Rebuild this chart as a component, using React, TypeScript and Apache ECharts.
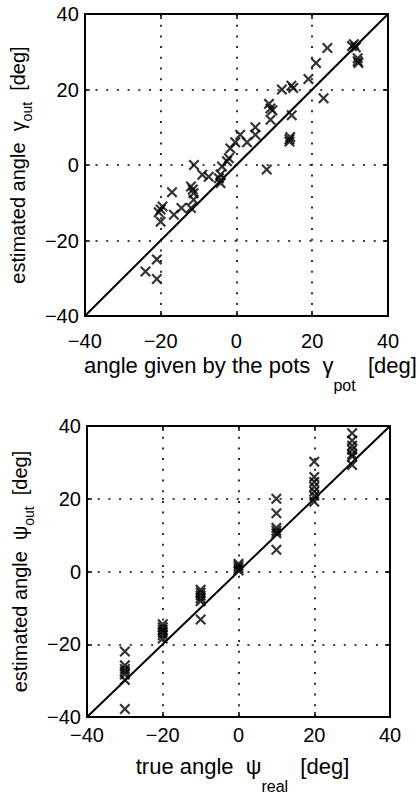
import React, { useEffect, useRef } from "react";
import * as echarts from "echarts";

// ---- data ----
const tickValues = [-40, -20, 0, 20, 40];

// top panel: angle given by the pots (x) vs estimated angle gamma_out (y)
const potAngle = [
  24, 30.5, 31, 31.5, 32, 32, 32.2, 21, 19, 15, 14.5, 12, 23, 9, 8.6, 9.5, 9, 14.6,
  14, 14, 14.2, 5, 5, 1, -0.3, 2.8, -1.6, -2, -2.5, -4.6, -4.2, -4.2, -11.2, -9,
  -7.3, -3.8, 8, -12, -11.5, -11.3, -11.3, -12, -17, -20, -19.5, -20.5, -20, -16.5,
  -14.5, -21, -24, -21,
];
const gammaOut = [
  31, 31.5, 32, 31.2, 27.5, 28.3, 27, 27, 22.8, 20.4, 21, 20, 17.7, 15, 16.2, 14.5,
  12, 13.2, 6.8, 6.2, 7.4, 10, 8, 8, 6, 6, 4.4, 1.8, 1, -3.5, -2.5, -4.8, 0, -2.6,
  -3.1, -0.4, -1.2, -5.7, -6.5, -7.5, -9.2, -11.4, -7.2, -11.8, -11, -12.5, -15,
  -13.2, -11.4, -25, -28.2, -30.2,
];

// bottom panel: true angle psi_real (x) vs estimated angle psi_out (y)
const realAngle = [
  -30, -30, -30, -30, -30, -30, -30,
  -20, -20, -20, -20, -20, -20,
  -10, -10, -10, -10, -10, -10,
  0, 0, 0, 0,
  10, 10, 10, 10, 10, 10,
  20, 20, 20, 20, 20, 20, 20,
  30, 30, 30, 30, 30, 30, 30,
];
const psiOut = [
  -22, -25.8, -26.8, -27.5, -28.3, -29.8, -37.8,
  -14.5, -15.3, -16, -16.8, -17.5, -18.4,
  -5, -5.8, -6.6, -7.4, -8.2, -13.2,
  0.3, 0.9, 1.5, 2.1,
  20, 16, 12, 11.2, 10.5, 6,
  30.2, 26, 24.6, 23.3, 22, 20.8, 19.2,
  38, 36, 34.6, 33.5, 32.2, 31.6, 29.3,
];

// identity reference line y = x
const identityX = [-40, 40];

const FONT = "Liberation Sans, Arial, Helvetica, sans-serif";
const X_PATH =
  "path://M0,14 L14,0 L50,36 L86,0 L100,14 L64,50 L100,86 L86,100 L50,64 L14,100 L0,86 L36,50 Z";

const fmt = (v: number) => (v < 0 ? "\u2212" + Math.abs(v) : String(v));

function xAxes(grid: number, name: string, labelMargin: number, nameGap: number, shift: number) {
  const base = {
    gridIndex: grid,
    type: "value" as const,
    min: tickValues[0],
    max: tickValues[tickValues.length - 1],
    interval: 20,
    axisLine: { show: true, onZero: false, lineStyle: { color: "#000", width: 2 } },
    axisTick: { show: true, inside: true, length: 5, lineStyle: { color: "#000", width: 1.5 } },
  };
  return [
    {
      ...base,
      position: "bottom",
      axisLabel: { show: true, margin: labelMargin, color: "#000", fontFamily: FONT, fontSize: 20, formatter: fmt },
      splitLine: { show: true, lineStyle: { color: "#000", width: 1.6, type: [2, 8.7] } },
      name,
      nameLocation: "middle",
      nameGap,
      nameTextStyle: {
        padding: [0, 0, 0, shift],
        rich: {
          m: { fontFamily: FONT, fontSize: 22, lineHeight: 22, color: "#000", verticalAlign: "top" },
          s: { fontFamily: FONT, fontSize: 16, lineHeight: 16, color: "#000", verticalAlign: "top", padding: [23, 0, 0, 0] },
        },
      },
    },
    {
      ...base,
      position: "top",
      axisLabel: { show: false },
      splitLine: { show: false },
    },
  ];
}

function yAxes(grid: number, name: string, nameGap: number) {
  const base = {
    gridIndex: grid,
    type: "value" as const,
    min: tickValues[0],
    max: tickValues[tickValues.length - 1],
    interval: 20,
    axisLine: { show: true, onZero: false, lineStyle: { color: "#000", width: 2 } },
    axisTick: { show: true, inside: true, length: 5, lineStyle: { color: "#000", width: 1.5 } },
  };
  return [
    {
      ...base,
      position: "left",
      axisLabel: { show: true, margin: 6, color: "#000", fontFamily: FONT, fontSize: 20, formatter: fmt },
      splitLine: { show: true, lineStyle: { color: "#000", width: 1.6, type: [2, 8.7] } },
      name,
      nameLocation: "middle",
      nameGap,
      nameTextStyle: {
        rich: {
          m: { fontFamily: FONT, fontSize: 20, lineHeight: 20, color: "#000", verticalAlign: "top" },
          s: { fontFamily: FONT, fontSize: 14, lineHeight: 14, color: "#000", verticalAlign: "top", padding: [12, 0, 0, 0] },
        },
      },
    },
    {
      ...base,
      position: "right",
      axisLabel: { show: false },
      splitLine: { show: false },
    },
  ];
}

export default function App() {
  const ref = useRef<HTMLDivElement>(null);
  useEffect(() => {
    if (!ref.current) return;
    const chart = echarts.init(ref.current, null, { renderer: "svg" });
    const topPts = potAngle.map((x, i) => [x, gammaOut[i]]);
    const botPts = realAngle.map((x, i) => [x, psiOut[i]]);
    const diag = identityX.map((v) => [v, v]);
    chart.setOption({
      animation: false,
      backgroundColor: "#fff",
      textStyle: { fontFamily: FONT },
      grid: [
        { left: 84, top: 14, width: 304, height: 302 },
        { left: 87, top: 426, width: 303, height: 306 },
      ],
      xAxis: [
        ...xAxes(0, "{m|angle given by the pots  \u03b3}{s|pot}{m|  [deg]}", 15, 38, 28),
        ...xAxes(1, "{m|true angle  \u03c8}{s|real}{m|  [deg]}", 8, 38, 8),
      ],
      yAxis: [
        ...yAxes(0, "{m|estimated angle  \u03b3}{s|out}{m|  [deg]}", 48),
        ...yAxes(1, "{m|estimated angle  \u03c8}{s|out}{m|  [deg]}", 50),
      ],
      series: [
        {
          type: "line",
          xAxisIndex: 0,
          yAxisIndex: 0,
          data: diag,
          showSymbol: false,
          lineStyle: { color: "#000", width: 2 },
        },
        {
          type: "scatter",
          xAxisIndex: 0,
          yAxisIndex: 0,
          data: topPts,
          symbol: X_PATH,
          symbolSize: 11,
          itemStyle: { color: "#000" },
        },
        {
          type: "line",
          xAxisIndex: 2,
          yAxisIndex: 2,
          data: diag,
          showSymbol: false,
          lineStyle: { color: "#000", width: 2 },
        },
        {
          type: "scatter",
          xAxisIndex: 2,
          yAxisIndex: 2,
          data: botPts,
          symbol: X_PATH,
          symbolSize: 11,
          itemStyle: { color: "#000" },
        },
      ],
    });
    return () => chart.dispose();
  }, []);
  return (
    <div
      ref={ref}
      style={{ position: "fixed", left: 0, top: 0, width: 420, height: 795, background: "#fff" }}
    />
  );
}
